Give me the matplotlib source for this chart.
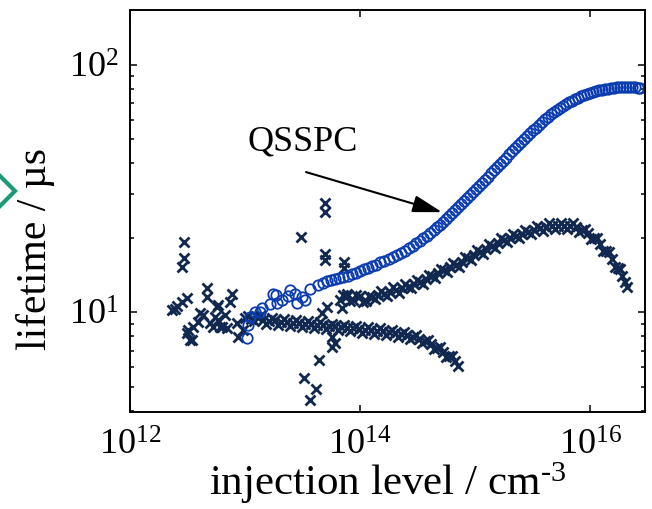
import matplotlib
matplotlib.use('Agg')
import matplotlib.pyplot as plt
from matplotlib.lines import Line2D
from matplotlib.ticker import NullLocator, FixedLocator, LogFormatterMathtext

plt.rcParams['font.family'] = ['Liberation Serif', 'DejaVu Serif']
plt.rcParams['mathtext.fontset'] = 'custom'
plt.rcParams['mathtext.rm'] = 'Liberation Serif'
plt.rcParams['mathtext.it'] = 'Liberation Serif:italic'

# QSSPC lifetime (open circles)
qsspc_n = [1.04e13, 1.06e13, 1.11e13, 1.22e13, 1.41e13, 1.65e13, 1.86e13, 2.10e13, 2.37e13, 2.72e13,
           3.13e13, 3.67e13, 4.31e13, 5.16e13, 6.06e13, 7.11e13, 8.51e13, 1.00e14, 1.17e14, 1.38e14,
           1.62e14, 1.94e14, 2.27e14, 2.67e14, 3.07e14, 3.53e14, 4.06e14, 4.67e14, 5.27e14, 5.94e14,
           6.70e14, 7.55e14, 8.51e14, 9.61e14, 1.08e15, 1.22e15, 1.38e15, 1.55e15, 1.75e15, 1.98e15,
           2.23e15, 2.51e15, 2.83e15, 3.19e15, 3.60e15, 4.06e15, 4.58e15, 5.16e15, 5.82e15, 6.56e15,
           7.41e15, 8.35e15, 9.42e15, 1.06e16, 1.20e16, 1.35e16, 1.52e16, 1.72e16, 1.94e16, 2.18e16,
           2.46e16, 2.72e16,
           1.35e13, 1.75e13, 1.90e13, 2.46e13, 2.83e13, 3.33e13,
           4.72e13, 5.60e13, 6.56e13, 7.78e13, 9.23e13, 1.08e14, 1.27e14, 1.49e14, 1.77e14, 2.10e14,
           2.46e14, 2.86e14, 3.29e14, 3.78e14, 4.35e14, 4.96e14, 5.60e14, 6.31e14, 7.11e14, 8.02e14,
           9.05e14, 1.02e15, 1.15e15, 1.30e15, 1.46e15, 1.65e15, 1.86e15, 2.10e15, 2.36e15, 2.67e15,
           3.01e15, 3.39e15, 3.83e15, 4.31e15, 4.86e15, 5.48e15, 6.18e15, 6.97e15, 7.87e15, 8.87e15,
           1.00e16, 1.13e16, 1.27e16, 1.43e16, 1.62e16, 1.82e16, 2.06e16, 2.32e16, 2.59e16]
qsspc_tau = [7.9, 8.9, 9.6, 10.0, 10.4, 10.8, 11.7, 11.2, 11.6, 11.9,
             11.5, 12.4, 12.9, 13.4, 13.6, 13.9, 14.3, 14.7, 15.1, 15.6,
             16.1, 16.7, 17.3, 18.2, 19.0, 19.9, 20.9, 22.1, 23.1, 24.5,
             25.9, 27.4, 28.9, 30.6, 32.4, 34.2, 36.5, 38.6, 40.9, 43.6,
             46.1, 48.8, 51.6, 54.6, 57.2, 60.4, 63.3, 65.7, 68.2, 70.8,
             72.8, 74.9, 76.3, 77.7, 79.2, 79.9, 80.7, 81.5, 81.5, 81.5,
             81.5, 80.7,
             10.0, 11.9, 10.9, 12.3, 10.9, 11.2,
             13.1, 13.5, 13.7, 14.05, 14.45, 14.9, 15.35, 15.9, 16.4, 17.0,
             17.75, 18.6, 19.5, 20.4, 21.5, 22.6, 23.8, 25.2, 26.6, 28.1,
             29.8, 31.5, 33.3, 35.4, 37.6, 39.7, 42.2, 44.9, 47.5, 50.2,
             53.0, 55.8, 58.8, 61.9, 64.5, 67.0, 69.5, 71.8, 73.9, 75.6,
             77.0, 78.5, 79.6, 80.3, 81.1, 81.5, 81.5, 81.5, 81.1]

# crosses: scattered points at low injection
noise_n = [2.95e12, 2.95e12, 2.83e12, 2.32e12, 2.56e12, 2.83e12, 3.13e12, 2.46e12, 4.67e12, 4.67e12,
           5.82e12, 7.71e12, 7.41e12, 5.48e12, 4.96e12, 4.31e12, 3.90e12, 3.53e12, 3.19e12, 3.46e12,
           3.13e12, 6.31e12, 6.97e12, 5.27e12, 5.82e12, 8.69e12, 9.61e12, 8.52e12, 6.70e12, 4.06e12,
           5.71e12, 6.06e12, 3.33e12,
           4.96e13, 4.96e13, 3.07e13, 4.96e13, 4.96e13, 7.26e13, 7.26e13, 4.67e13, 5.16e13, 6.97e13,
           7.71e13, 6.06e13, 5.71e13, 5.71e13, 4.40e13, 3.26e13, 4.14e13, 3.67e13]
noise_tau = [19.2, 16.5, 15.2, 10.2, 10.6, 11.0, 11.4, 10.3, 12.5, 11.5,
             10.7, 11.9, 11.0, 9.54, 9.03, 9.72, 9.11, 8.69, 8.46, 7.70,
             8.22, 8.69, 8.61, 8.69, 9.28, 7.92, 8.46, 9.03, 9.72, 9.91,
             10.5, 8.69, 7.70,
             27.6, 25.4, 20.1, 17.2, 16.2, 15.9, 15.1, 9.91, 10.5, 10.4,
             11.9, 7.49, 7.22, 7.92, 6.39, 5.41, 4.88, 4.40]

# crosses: lower branch (centre of band, then points off the centre)
low_n = [1.00e13, 1.13e13, 1.27e13, 1.43e13, 1.62e13, 1.82e13, 2.06e13, 2.32e13, 2.61e13, 2.95e13,
         3.33e13, 3.75e13, 4.23e13, 4.77e13, 5.38e13, 6.06e13, 6.84e13, 7.71e13, 8.69e13, 9.80e13,
         1.11e14, 1.25e14, 1.41e14, 1.58e14, 1.79e14, 2.02e14, 2.27e14, 2.56e14, 2.89e14, 3.26e14,
         3.67e14, 4.14e14, 4.67e14, 5.27e14, 5.94e14, 6.70e14, 7.11e14,
         1.06e13, 1.20e13, 1.35e13, 1.52e13, 1.72e13, 1.94e13, 2.18e13, 2.46e13, 2.77e13, 3.13e13,
         3.53e13, 3.98e13, 4.49e13, 5.06e13, 5.71e13, 6.44e13, 7.26e13, 8.19e13, 9.23e13, 1.04e14,
         1.17e14, 1.32e14, 1.49e14, 1.68e14, 1.90e14, 2.14e14, 2.41e14, 2.72e14, 3.07e14, 3.46e14,
         3.90e14, 4.40e14, 4.96e14, 5.60e14, 6.31e14]
low_tau = [9.46, 9.37, 9.54, 9.28, 9.20, 9.28, 9.11, 9.11, 9.03, 9.03,
           8.94, 8.94, 8.86, 8.86, 8.78, 8.78, 8.69, 8.61, 8.61, 8.53,
           8.46, 8.46, 8.38, 8.38, 8.30, 8.22, 8.15, 8.07, 7.92, 7.78,
           7.63, 7.42, 7.15, 6.89, 6.64, 6.33, 6.04,
           9.7, 9.2, 9.7, 8.97, 9.5, 8.9, 9.4, 8.8, 9.3, 8.7,
           9.2, 8.64, 9.1, 8.56, 9.0, 8.5, 8.9, 8.36, 8.8, 8.25,
           8.7, 8.17, 8.6, 8.1, 8.5, 7.95, 8.35, 7.77, 8.1, 7.5,
           7.75, 7.07, 7.23, 6.57, 6.67]

# crosses: upper branch (centre of band, then points off the centre)
up_n = [6.70e13, 7.71e13, 8.69e13, 1.00e14, 1.13e14, 1.27e14, 1.43e14, 1.62e14, 1.82e14, 2.06e14,
        2.32e14, 2.61e14, 2.95e14, 3.33e14, 3.75e14, 4.23e14, 4.77e14, 5.38e14, 6.06e14, 6.84e14,
        7.71e14, 8.69e14, 9.80e14, 1.11e15, 1.25e15, 1.41e15, 1.58e15, 1.79e15, 2.02e15, 2.27e15,
        2.56e15, 2.89e15, 3.26e15, 3.67e15, 4.14e15, 4.67e15, 5.27e15, 5.94e15, 6.70e15, 7.55e15,
        8.52e15, 9.61e15, 1.08e16, 1.22e16, 1.38e16, 1.55e16, 1.75e16, 1.90e16, 2.02e16, 2.10e16,
        7.11e13, 8.19e13, 9.23e13, 1.06e14, 1.20e14, 1.35e14, 1.52e14, 1.72e14, 1.94e14, 2.18e14,
        2.46e14, 2.77e14, 3.13e14, 3.53e14, 3.98e14, 4.49e14, 5.06e14, 5.71e14, 6.44e14, 7.26e14,
        8.19e14, 9.23e14, 1.04e15, 1.17e15, 1.32e15, 1.49e15, 1.68e15, 1.90e15, 2.14e15, 2.41e15,
        2.72e15, 3.07e15, 3.46e15, 3.90e15, 4.40e15, 4.96e15, 5.59e15, 6.31e15, 7.11e15, 8.02e15,
        9.05e15, 1.02e16, 1.15e16, 1.30e16, 1.46e16, 1.65e16, 1.82e16]
up_tau = [11.2, 11.6, 11.2, 11.6, 11.1, 11.5, 11.7, 11.9, 12.1, 12.3,
          12.5, 12.7, 13.0, 13.2, 13.6, 14.0, 14.4, 14.8, 15.2, 15.5,
          15.9, 16.5, 17.0, 17.5, 18.0, 18.5, 19.0, 19.6, 19.9, 20.3,
          20.7, 21.1, 21.5, 21.9, 22.1, 22.3, 22.3, 22.3, 22.3, 22.1,
          21.5, 20.9, 19.9, 18.8, 17.7, 16.4, 15.1, 14.0, 13.2, 12.7,
          11.7, 11.1, 11.7, 11.0, 11.6, 11.3, 12.2, 11.65, 12.6, 12.0,
          13.0, 12.5, 13.5, 13.0, 14.2, 13.8, 15.0, 14.6, 15.8, 15.2,
          16.7, 16.3, 17.8, 17.2, 18.8, 18.2, 19.9, 19.2, 20.7, 19.9,
          21.5, 20.7, 22.4, 21.4, 22.9, 21.7, 23.0, 21.7, 22.9, 21.2,
          21.8, 19.8, 19.9, 17.7, 17.6, 15.3, 15.0]

x_ticks = [1e12, 1e14, 1e16]
y_ticks = [10, 100]
y_minor = [4, 5, 6, 7, 8, 9, 20, 30, 40, 50, 60, 70, 80, 90]

navy = '#112850'
blue = '#0a3cb0'

fig = plt.figure(figsize=(6.52, 5.09), dpi=100)
ax = fig.add_axes([0.1994, 0.1906, 0.7899, 0.7898])

for xs, ys in [(noise_n, noise_tau), (low_n, low_tau), (up_n, up_tau)]:
    ax.plot(xs, ys, linestyle='none', marker='x', ms=7.3, mew=2.0, color=navy)
ax.plot(qsspc_n, qsspc_tau, linestyle='none', marker='o', ms=7.5, mew=1.3,
        mfc='none', mec=blue)

ax.set_xscale('log')
ax.set_yscale('log')
ax.set_xlim(1e12, 3.0e16)
ax.set_ylim(3.95, 167)

ax.xaxis.set_major_locator(FixedLocator(x_ticks))
ax.xaxis.set_minor_locator(NullLocator())
ax.yaxis.set_major_locator(FixedLocator(y_ticks))
ax.yaxis.set_minor_locator(FixedLocator(y_minor))
ax.xaxis.set_major_formatter(LogFormatterMathtext())
ax.yaxis.set_major_formatter(LogFormatterMathtext())

ax.tick_params(which='both', direction='in', top=True, right=True, width=1.1, labelsize=26)
ax.tick_params(which='major', length=5)
ax.tick_params(which='minor', length=3)
ax.tick_params(axis='x', which='major', pad=13)
ax.tick_params(axis='y', which='major', pad=8)
for s in ax.spines.values():
    s.set_linewidth(1.4)

ax.set_xlabel('injection level / cm$^{\\text{-3}}$', fontsize=31, labelpad=-2)
ax.set_ylabel('lifetime / µs', fontsize=30)
ax.yaxis.set_label_coords(-0.146, 0.405)

ax.text(3.19e13, 48.7, 'QSSPC', fontsize=26, ha='center', va='center')
ax.annotate('', xy=(5.16e14, 25.4), xytext=(3.39e13, 36.9),
            arrowprops=dict(arrowstyle='-|>,head_length=1.2,head_width=0.35',
                            mutation_scale=15, lw=1.5, color='k',
                            shrinkA=0, shrinkB=0))

# green diamond cut off at the left edge
fig.add_artist(Line2D([0.0], [1 - 191 / 509], transform=fig.transFigure, marker='D',
                      ms=15, mew=3, mfc='none', mec='#1b9a78', linestyle='none'))

fig.savefig('out.png', dpi=100)
